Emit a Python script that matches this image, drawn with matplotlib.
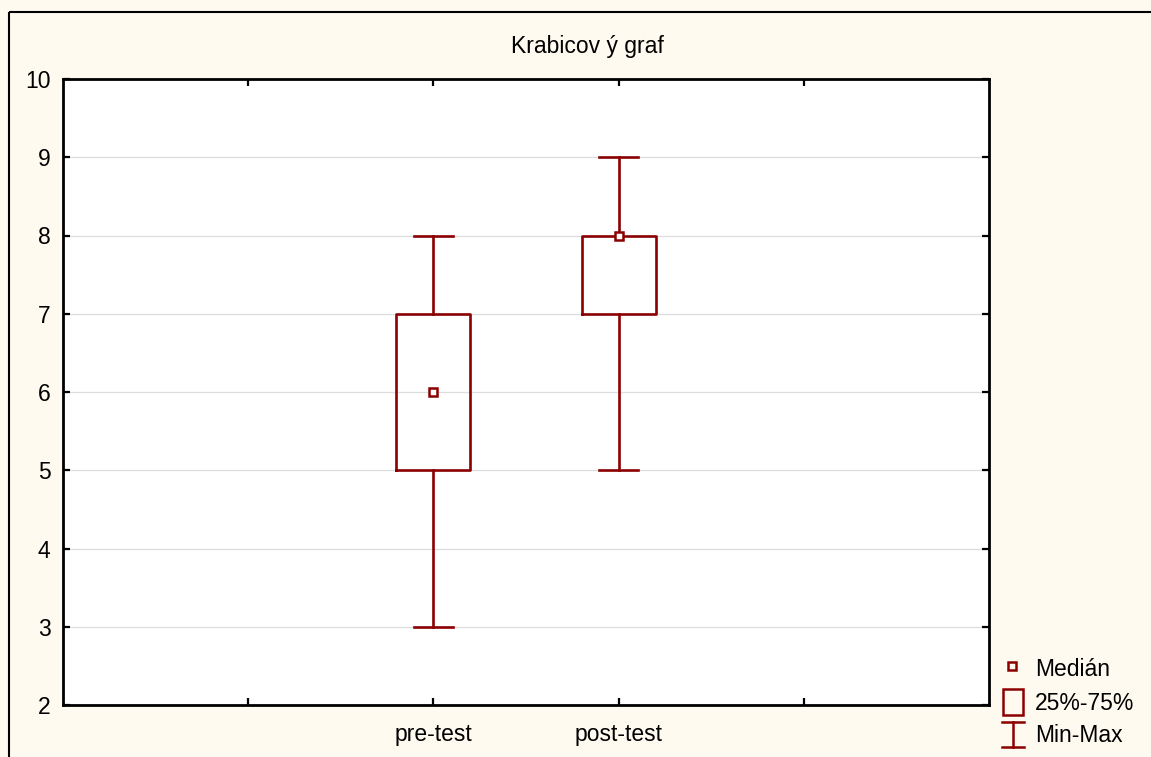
import matplotlib
matplotlib.use("Agg")
import matplotlib.pyplot as plt
from matplotlib.patches import Rectangle
from matplotlib.lines import Line2D

plt.rcParams['font.family'] = ['Liberation Sans', 'DejaVu Sans']

groups = ["pre-test", "post-test"]
positions = [2, 3]
mins = [3, 5]
q1 = [5, 7]
medians = [6, 8]
q3 = [7, 8]
maxs = [8, 9]

red = '#8b0000'
bg = '#fffaf0'
fs = 16.5

fig = plt.figure(figsize=(11.51, 7.57), dpi=100, facecolor=bg)
ax = fig.add_axes([63 / 1151, 1 - 705 / 757, 926 / 1151, 626 / 757])
ax.set_facecolor('white')

stats = []
for i in range(len(groups)):
    stats.append(dict(label=groups[i], whislo=mins[i], q1=q1[i], med=medians[i],
                      q3=q3[i], whishi=maxs[i], fliers=[]))

lw = 1.9
ax.bxp(stats, positions=positions, widths=0.4, capwidths=0.21, showfliers=False,
       boxprops=dict(color=red, linewidth=lw),
       whiskerprops=dict(color=red, linewidth=lw),
       capprops=dict(color=red, linewidth=lw),
       medianprops=dict(linestyle='none'))
ax.plot(positions, medians, linestyle='none', marker='s', markersize=5.5,
        markerfacecolor='white', markeredgecolor=red, markeredgewidth=1.8, zorder=5)

ax.set_xlim(0, 5)
ax.set_ylim(2, 10)
ax.set_yticks(range(2, 11))
ax.set_xticks([1, 2, 3, 4])
ax.set_xticklabels(["", "pre-test", "post-test", ""])
ax.yaxis.grid(True, color='#dddddd', linewidth=0.9)
ax.set_axisbelow(True)
ax.tick_params(axis='both', direction='in', length=5, width=1.6, labelsize=fs,
               top=True, right=True)
ax.tick_params(axis='y', pad=9)
ax.tick_params(axis='x', pad=13)
for s in ax.spines.values():
    s.set_linewidth(2)

# overlay in pixel units for title, outer frame and legend
ov = fig.add_axes([0, 0, 1, 1], facecolor='none')
ov.set_xlim(0, 1151)
ov.set_ylim(757, 0)
ov.axis('off')
ov.add_patch(Rectangle((9, 12), 1200, 800, fill=False, edgecolor='black', linewidth=1.5,
                       clip_on=False))
ov.text(587, 47, "Krabicov ý graf", ha='center', va='center', fontsize=fs)

ov.add_patch(Rectangle((1008, 662), 8, 8, fill=False, edgecolor=red, linewidth=1.8))
ov.add_patch(Rectangle((1003, 689), 20, 26, fill=False, edgecolor=red, linewidth=1.8))
ov.add_line(Line2D([1013, 1013], [722, 747], color=red, linewidth=1.8))
ov.add_line(Line2D([1002, 1024], [722, 722], color=red, linewidth=1.8))
ov.add_line(Line2D([1002, 1024], [747, 747], color=red, linewidth=1.8))
ov.text(1035, 669, "Medián", va='center', fontsize=fs)
ov.text(1035, 703, "25%-75%", va='center', fontsize=fs)
ov.text(1035, 736, "Min-Max", va='center', fontsize=fs)

fig.savefig('out.png', dpi=100, facecolor=bg)
